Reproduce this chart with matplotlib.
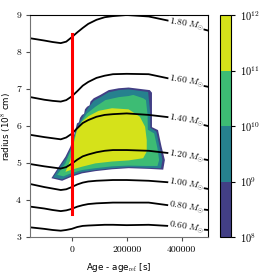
import numpy as np
import matplotlib
matplotlib.use('Agg')
import matplotlib.pyplot as plt
from matplotlib.colors import ListedColormap, BoundaryNorm
import matplotlib as mpl

plt.rcParams['mathtext.fontset'] = 'cm'

# radius of mass shells (1e8 cm) vs age - age_ref (s)
age = [-150000, -100000, -70000, -40000, -20000, 0, 20000, 40000, 60000,
       90000, 120000, 150000, 200000, 280000, 350000, 400000, 450000, 496000]
r_180 = [8.37, 8.31, 8.27, 8.24, 8.28, 8.40, 8.53, 8.65, 8.76, 8.87, 8.94, 8.97, 9.00, 8.96, 8.85, 8.76, 8.67, 8.58]
r_160 = [6.78, 6.71, 6.68, 6.66, 6.70, 6.80, 6.94, 7.09, 7.19, 7.30, 7.36, 7.40, 7.41, 7.40, 7.29, 7.21, 7.13, 7.06]
r_140 = [5.76, 5.70, 5.67, 5.64, 5.69, 5.79, 5.94, 6.08, 6.16, 6.25, 6.30, 6.32, 6.34, 6.30, 6.24, 6.16, 6.08, 6.00]
r_120 = [4.97, 4.91, 4.88, 4.85, 4.89, 4.98, 5.09, 5.18, 5.23, 5.29, 5.33, 5.35, 5.35, 5.33, 5.27, 5.20, 5.14, 5.08]
r_100 = [4.43, 4.35, 4.31, 4.27, 4.29, 4.35, 4.42, 4.47, 4.50, 4.52, 4.53, 4.54, 4.54, 4.52, 4.48, 4.42, 4.36, 4.30]
r_080 = [3.82, 3.77, 3.73, 3.70, 3.72, 3.76, 3.82, 3.86, 3.89, 3.91, 3.92, 3.93, 3.93, 3.93, 3.86, 3.81, 3.77, 3.73]
r_060 = [3.26, 3.22, 3.19, 3.17, 3.19, 3.22, 3.27, 3.30, 3.31, 3.32, 3.33, 3.33, 3.32, 3.33, 3.30, 3.26, 3.22, 3.19]
shells = [r_180, r_160, r_140, r_120, r_100, r_080, r_060]
shell_mass = ['1.80', '1.60', '1.40', '1.20', '1.00', '0.80', '0.60']

# outlines of the filled regions, one per level (>1e8, >1e9, >1e10, >1e11)
lev_age_1 = [-74000, -47000, -23000, -5000, 7000, 19000, 26000, 30000, 37500, 45000, 48000, 55600,
             65000, 68000, 80000, 104000, 134500, 171000, 207000, 284000, 292000, 292000, 314000,
             327000, 339000, 333000, 284000, 207000, 146500, 86000, 37500, 0, -35000]
lev_r_1 = [4.59, 4.90, 5.17, 5.44, 5.71, 6.07, 6.10, 6.22, 6.30, 6.33, 6.45, 6.52,
           6.56, 6.66, 6.75, 6.84, 6.97, 7.02, 7.04, 6.97, 6.90, 5.97, 5.89,
           5.44, 5.08, 4.82, 4.84, 4.86, 4.83, 4.78, 4.72, 4.63, 4.52]
lev_age_2 = [-68000, -44000, -21000, -4000, 8000, 21000, 38000, 56000, 80000, 104000, 134000, 171000,
             207000, 278000, 285000, 286000, 308000, 320000, 330000, 325000, 280000, 207000, 146500,
             86000, 37500, 0, -35000]
lev_r_2 = [4.61, 4.88, 5.12, 5.38, 5.64, 5.98, 6.22, 6.45, 6.68, 6.78, 6.91, 6.97,
           6.99, 6.92, 6.40, 5.95, 5.85, 5.44, 5.08, 4.86, 4.87, 4.89, 4.86,
           4.81, 4.76, 4.67, 4.56]
lev_age_3 = [-53000, -23000, -5000, 13000, 31000, 55600, 86000, 122500, 171000, 207000, 224000, 260000,
             270000, 276000, 277000, 300000, 312000, 318000, 312000, 270000, 207000, 146500, 86000,
             37500, 0, -30000]
lev_r_3 = [4.68, 4.99, 5.31, 5.80, 6.07, 6.34, 6.52, 6.70, 6.78, 6.81, 6.84, 6.75,
           6.70, 6.30, 5.90, 5.80, 5.40, 5.08, 4.92, 4.92, 4.93, 4.91, 4.86,
           4.81, 4.73, 4.64]
lev_age_4 = [-23000, -5000, 7000, 19000, 37500, 62000, 98000, 146500, 207000, 248000, 267000, 273000,
             273000, 260000, 207000, 146500, 86000, 37500, 0]
lev_r_4 = [4.76, 5.08, 5.53, 5.89, 6.12, 6.27, 6.41, 6.48, 6.45, 6.25, 5.98, 5.62,
           5.31, 5.13, 5.07, 5.04, 4.99, 4.90, 4.82]
levels = [1e8, 1e9, 1e10, 1e11, 1e12]

# reference time marker
ref_age = 0
ref_r = [3.62, 8.49]

colors = [plt.cm.viridis(v) for v in [0.185, 0.435, 0.685, 0.935]]
cmap = ListedColormap(colors)
norm = BoundaryNorm(levels, cmap.N)

fig = plt.figure(figsize=(2.69, 2.77), dpi=100)
ax = fig.add_axes([30/269, 40/277, 178/269, 222/277])
cax = fig.add_axes([220/269, 40/277, 11/269, 222/277])

regions = [(lev_age_1, lev_r_1), (lev_age_2, lev_r_2), (lev_age_3, lev_r_3), (lev_age_4, lev_r_4)]
for i, (xa, ya) in enumerate(regions):
    ax.fill(xa, ya, color=colors[i], lw=0, zorder=1)

label_x = 416000
for r, m in zip(shells, shell_mass):
    ax.plot(age, r, color='k', lw=1.3, zorder=2, solid_joinstyle='round')
    ly = np.interp(label_x, age, r)
    ax.text(label_x, ly, r'$\mathit{' + m + r'}\ M_{\odot}$', fontsize=6.8,
            ha='center', va='center', rotation=-9, rotation_mode='anchor', zorder=3,
            bbox=dict(facecolor='white', edgecolor='none', pad=0.2))

ax.plot([ref_age, ref_age], ref_r, color='red', lw=2.2, zorder=4)

ax.set_xlim(-152000, 496000)
ax.set_ylim(3, 9)
ax.set_xticks([0, 200000, 400000])
ax.set_yticks([3, 4, 5, 6, 7, 8, 9])
ax.tick_params(labelsize=7, length=3, width=0.8, labelfontfamily='cmr10', color='0.3')
for s in ['left', 'bottom']:
    ax.spines[s].set_color('0.45')
ax.set_xlabel(r'Age - age$_{\rm ref}$ [s]', fontsize=6.3, labelpad=5)
ax.set_ylabel(r'radius (10$^8$ cm)', fontsize=6.3)
ax.yaxis.set_label_coords(-0.088, 0.5)

cb = mpl.colorbar.ColorbarBase(cax, cmap=cmap, norm=norm, ticks=levels)
cb.ax.set_yticklabels([r'$10^{%d}$' % int(np.log10(v)) for v in levels])
cb.ax.tick_params(labelsize=7.5, length=3, width=0.8)
cb.outline.set_linewidth(0.8)

fig.savefig('out.png', dpi=100)
